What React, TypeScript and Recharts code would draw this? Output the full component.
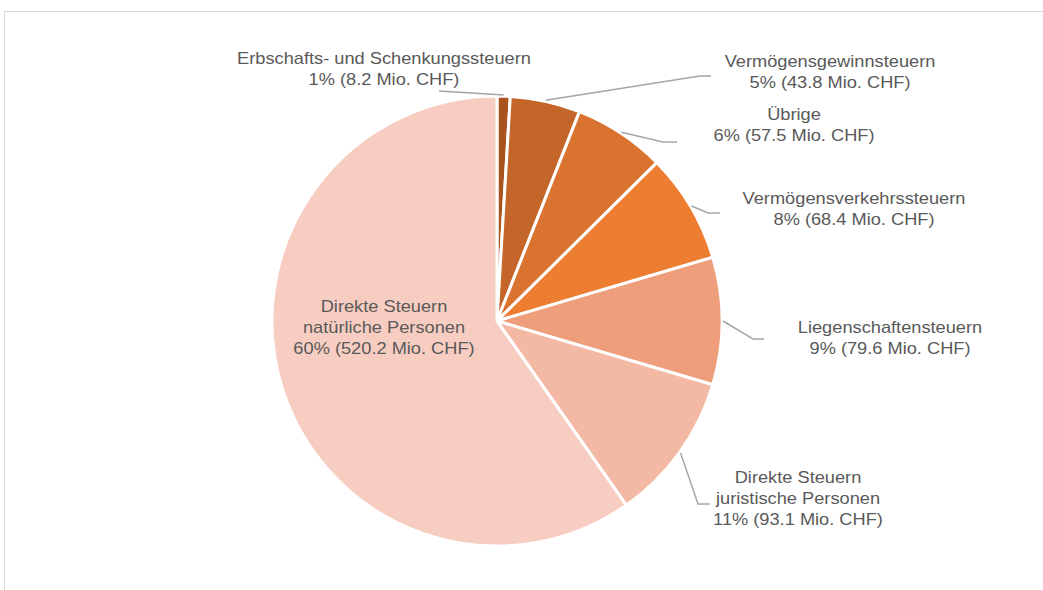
import React from "react";
import { PieChart, Pie, Cell } from "recharts";

const categories = [
  "Erbschafts- und Schenkungssteuern",
  "Vermögensgewinnsteuern",
  "Übrige",
  "Vermögensverkehrssteuern",
  "Liegenschaftensteuern",
  "Direkte Steuern juristische Personen",
  "Direkte Steuern natürliche Personen",
];
const labelLines = [
  ["Erbschafts- und Schenkungssteuern"],
  ["Vermögensgewinnsteuern"],
  ["Übrige"],
  ["Vermögensverkehrssteuern"],
  ["Liegenschaftensteuern"],
  ["Direkte Steuern", "juristische Personen"],
  ["Direkte Steuern", "natürliche Personen"],
];
const values = [8.2, 43.8, 57.5, 68.4, 79.6, 93.1, 520.2];
const percents = [1, 5, 6, 8, 9, 11, 60];
const colors = ["#A9531F", "#C4662A", "#D9732F", "#ED7D31", "#EF9E7B", "#F4B9A4", "#F8CDC1"];

// label layout relative to pie centre: text centre, elbow, line end
const labelLayout: { t: [number, number]; e?: [number, number]; end?: [number, number]; line: boolean }[] = [
  { t: [-113, -263], end: [-58, -230], line: true },
  { t: [333, -260], e: [203, -245], end: [214, -245], line: true },
  { t: [297, -207], e: [166, -179], end: [180, -179], line: true },
  { t: [357, -123], e: [211, -108], end: [223, -108], line: true },
  { t: [393, 6], e: [256, 18], end: [267, 18], line: true },
  { t: [301, 156], e: [201, 183], end: [213, 183], line: true },
  { t: [-113, -15], line: false },
];

const data = categories.map((name, i) => ({
  name,
  value: values[i],
  lines: [...labelLines[i], `${percents[i]}% (${values[i].toFixed(1)} Mio. CHF)`],
}));

const RAD = Math.PI / 180;

const renderLabel = (props: any) => {
  const { cx, cy, midAngle, outerRadius, index } = props;
  const cfg = labelLayout[index];
  const ex = cx + (outerRadius + 1) * Math.cos(-midAngle * RAD);
  const ey = cy + (outerRadius + 1) * Math.sin(-midAngle * RAD);
  const lines: string[] = data[index].lines;
  const lh = 21;
  const tx = cx + cfg.t[0];
  const ty0 = cy + cfg.t[1];
  let pts = "";
  if (cfg.line) {
    const p: [number, number][] = [[ex, ey]];
    if (cfg.e) p.push([cx + cfg.e[0], cy + cfg.e[1]]);
    if (cfg.end) p.push([cx + cfg.end[0], cy + cfg.end[1]]);
    pts = p.map((q) => q.join(",")).join(" ");
  }
  return (
    <g key={`lbl-${index}`}>
      {cfg.line && <polyline points={pts} fill="none" stroke="#A6A6A6" strokeWidth={1.5} />}
      {lines.map((s, k) => (
        <text
          key={k}
          transform={`translate(${tx},${ty0 + k * lh}) scale(1.14,1)`}
          x={0}
          y={0}
          textAnchor="middle"
          dominantBaseline="central"
          fill="#595959"
          fontSize={16}
          fontFamily="'Liberation Sans', Arial, sans-serif"
        >
          {s}
        </text>
      ))}
    </g>
  );
};

export default function App() {
  return (
    <div style={{ position: "absolute", left: 0, top: 0, width: 1043, height: 590, background: "#fff", overflow: "hidden" }}>
      <div
        style={{
          position: "absolute",
          left: 4,
          top: 11,
          width: 1200,
          height: 800,
          borderLeft: "1px solid #D9D9D9",
          borderTop: "1px solid #D9D9D9",
        }}
      />
      <div style={{ position: "absolute", left: 0, top: 0 }}>
        <PieChart width={1043} height={590} margin={{ top: 0, right: 0, bottom: 0, left: 0 }}>
          <Pie
            data={data}
            dataKey="value"
            nameKey="name"
            cx={497}
            cy={321}
            outerRadius={225}
            startAngle={90}
            endAngle={-270}
            stroke="#FFFFFF"
            strokeWidth={3}
            label={renderLabel}
            labelLine={false}
            isAnimationActive={false}
          >
            {data.map((d, i) => (
              <Cell key={d.name} fill={colors[i]} />
            ))}
          </Pie>
        </PieChart>
      </div>
    </div>
  );
}
